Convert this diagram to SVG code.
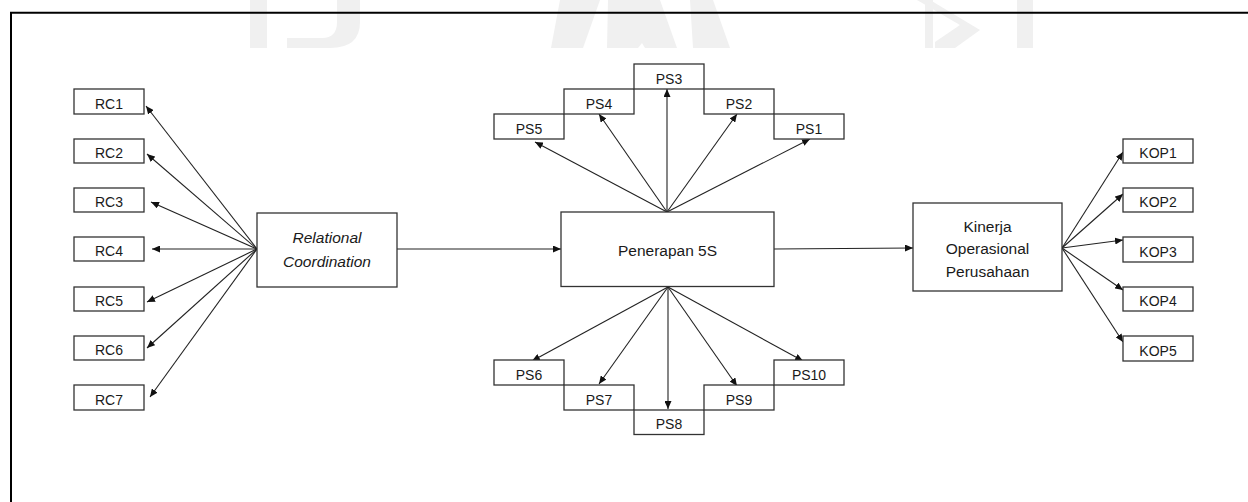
<svg xmlns="http://www.w3.org/2000/svg" width="1248" height="502" viewBox="0 0 1248 502">
<defs>
<style>
.box{fill:#fff;stroke:#333;stroke-width:1.3}
.lbl{font-family:"Liberation Sans",Arial,sans-serif;font-size:14px;fill:#1a1a1a;text-anchor:middle}
.big{font-family:"Liberation Sans",Arial,sans-serif;font-size:15.5px;fill:#1a1a1a;text-anchor:middle}
.it{font-style:italic}
.edge{stroke:#222;stroke-width:1.1;fill:none;marker-end:url(#arr)}
.wm{fill:#f0f0f0}
</style>
<marker id="arr" markerUnits="userSpaceOnUse" markerWidth="9" markerHeight="7" refX="8" refY="3.5" orient="auto">
<path d="M0,0 L8,3.5 L0,7 z" fill="#111"/>
</marker>
</defs>
<rect width="1248" height="502" fill="#fff"/>
<g id="watermark">
<rect class="wm" x="250" y="0" width="17" height="48"/>
<path class="wm" d="M337,0 L360,0 L360,22 Q360,48 330,48 L287,48 L287,38 L322,38 Q337,38 337,22 Z"/>
<path class="wm" d="M560,0 L600,0 L583,48 L551,48 Z"/>
<path class="wm" d="M608,0 L660,0 L677,48 L645,48 L642,43 L638,48 L607,48 Z"/>
<path class="wm" d="M690,0 L713,0 L730,48 L693,48 Z"/>
<rect class="wm" x="925" y="0" width="8" height="48"/>
<path class="wm" d="M917,0 L930,0 L980,30 L955,48 L935,48 L935,42 L960,25 Z"/>
<rect class="wm" x="1017" y="0" width="16" height="48"/>
</g>
<g id="frame" stroke="#000" stroke-width="2" fill="none">
<line x1="10" y1="12.7" x2="1248" y2="12.7"/>
<line x1="11" y1="12" x2="11" y2="502"/>
</g>
<g id="connectors">
<line class="edge" x1="257" y1="249" x2="146" y2="106"/>
<line class="edge" x1="257" y1="249" x2="147" y2="154"/>
<line class="edge" x1="257" y1="249" x2="151" y2="202"/>
<line class="edge" x1="257" y1="249" x2="152" y2="249"/>
<line class="edge" x1="257" y1="249" x2="147" y2="302"/>
<line class="edge" x1="257" y1="249" x2="147" y2="348"/>
<line class="edge" x1="257" y1="249" x2="150" y2="397"/>
<line class="edge" x1="397" y1="249" x2="561" y2="249"/>
<line class="edge" x1="667" y1="212" x2="535" y2="142"/>
<line class="edge" x1="667" y1="212" x2="599" y2="114"/>
<line class="edge" x1="667" y1="212" x2="667" y2="89"/>
<line class="edge" x1="667" y1="212" x2="737" y2="114"/>
<line class="edge" x1="667" y1="212" x2="810" y2="139"/>
<line class="edge" x1="668" y1="287" x2="532" y2="361"/>
<line class="edge" x1="668" y1="287" x2="599" y2="384"/>
<line class="edge" x1="668" y1="287" x2="668" y2="409"/>
<line class="edge" x1="668" y1="287" x2="737" y2="386"/>
<line class="edge" x1="668" y1="287" x2="803" y2="361"/>
<line class="edge" x1="774" y1="249" x2="913" y2="248"/>
<line class="edge" x1="1062" y1="248" x2="1123" y2="152"/>
<line class="edge" x1="1062" y1="248" x2="1123" y2="194"/>
<line class="edge" x1="1062" y1="248" x2="1123" y2="240"/>
<line class="edge" x1="1062" y1="248" x2="1123" y2="290"/>
<line class="edge" x1="1062" y1="248" x2="1123" y2="342"/>
</g>
<g id="RC1"><rect class="box" x="74" y="89" width="70" height="25"/><text class="lbl" x="109" y="108.5">RC1</text></g>
<g id="RC2"><rect class="box" x="74" y="139" width="70" height="24"/><text class="lbl" x="109" y="158">RC2</text></g>
<g id="RC3"><rect class="box" x="74" y="188" width="70" height="24"/><text class="lbl" x="109" y="207">RC3</text></g>
<g id="RC4"><rect class="box" x="74" y="237" width="70" height="24"/><text class="lbl" x="109" y="256">RC4</text></g>
<g id="RC5"><rect class="box" x="74" y="287" width="70" height="24"/><text class="lbl" x="109" y="306">RC5</text></g>
<g id="RC6"><rect class="box" x="74" y="336" width="70" height="24"/><text class="lbl" x="109" y="355">RC6</text></g>
<g id="RC7"><rect class="box" x="74" y="385" width="70" height="25"/><text class="lbl" x="109" y="404.5">RC7</text></g>
<g id="RelationalCoordination"><rect class="box" x="257" y="213" width="140" height="74"/><text class="big it" x="327" y="243">Relational</text><text class="big it" x="327" y="267">Coordination</text></g>
<g id="Penerapan5S"><rect class="box" x="561" y="212" width="213" height="74.5"/><text class="big" x="667.5" y="255.5">Penerapan 5S</text></g>
<g id="PS5"><rect class="box" x="494" y="114" width="70" height="25"/><text class="lbl" x="529" y="133.5">PS5</text></g>
<g id="PS4"><rect class="box" x="564" y="89" width="70" height="25"/><text class="lbl" x="599" y="108.5">PS4</text></g>
<g id="PS3"><rect class="box" x="634" y="64" width="70" height="25"/><text class="lbl" x="669" y="83.5">PS3</text></g>
<g id="PS2"><rect class="box" x="704" y="89" width="70" height="25"/><text class="lbl" x="739" y="108.5">PS2</text></g>
<g id="PS1"><rect class="box" x="774" y="114" width="70" height="25"/><text class="lbl" x="809" y="133.5">PS1</text></g>
<g id="PS6"><rect class="box" x="494" y="360" width="70" height="25"/><text class="lbl" x="529" y="379.5">PS6</text></g>
<g id="PS7"><rect class="box" x="564" y="385" width="70" height="25"/><text class="lbl" x="599" y="404.5">PS7</text></g>
<g id="PS8"><rect class="box" x="634" y="410" width="70" height="24.5"/><text class="lbl" x="669" y="429">PS8</text></g>
<g id="PS9"><rect class="box" x="704" y="385" width="70" height="25"/><text class="lbl" x="739" y="404.5">PS9</text></g>
<g id="PS10"><rect class="box" x="774" y="360" width="70" height="25"/><text class="lbl" x="809" y="379.5">PS10</text></g>
<g id="KinerjaOperasional"><rect class="box" x="913" y="203" width="149" height="88"/><text class="big" x="987.5" y="231.5">Kinerja</text><text class="big" x="987.5" y="254">Operasional</text><text class="big" x="987.5" y="277.3">Perusahaan</text></g>
<g id="KOP1"><rect class="box" x="1123" y="139" width="70" height="24"/><text class="lbl" x="1158" y="158">KOP1</text></g>
<g id="KOP2"><rect class="box" x="1123" y="188" width="70" height="24"/><text class="lbl" x="1158" y="207">KOP2</text></g>
<g id="KOP3"><rect class="box" x="1123" y="237" width="70" height="25"/><text class="lbl" x="1158" y="256.5">KOP3</text></g>
<g id="KOP4"><rect class="box" x="1123" y="287" width="70" height="24"/><text class="lbl" x="1158" y="306">KOP4</text></g>
<g id="KOP5"><rect class="box" x="1123" y="336" width="70" height="25"/><text class="lbl" x="1158" y="355.5">KOP5</text></g>
</svg>
